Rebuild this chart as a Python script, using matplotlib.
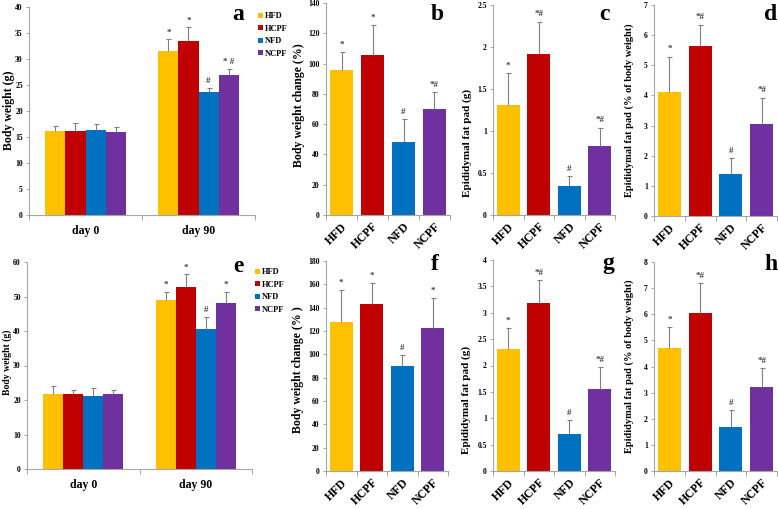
import matplotlib
matplotlib.use("Agg")
import matplotlib.pyplot as plt
from matplotlib.patches import Patch
import numpy as np

plt.rcParams['font.family'] = 'serif'
plt.rcParams['font.serif'] = ['Liberation Serif', 'DejaVu Serif']
plt.rcParams['font.weight'] = 'bold'

groups = ['HFD', 'HCPF', 'NFD', 'NCPF']
colors = ['#FFC000', '#C00000', '#0070C0', '#7030A0']
days = ['day 0', 'day 90']

# Panel a (body weight, g)
a_vals = [[16.2, 16.1, 16.4, 16.0], [31.6, 33.5, 23.7, 27.0]]
a_errs = [[1.0, 1.6, 1.1, 0.9], [2.2, 2.6, 0.8, 1.1]]
a_sig = [['', '', '', ''], ['*', '*', '#', '* #']]
# Panel b (body weight change, %)
b_vals = [95.5, 105.8, 48.0, 70.0]
b_errs = [12.0, 20.0, 15.5, 11.0]
b_sig = ['*', '*', '#', '*#']
# Panel c (epididymal fat pad, g)
c_vals = [1.31, 1.92, 0.34, 0.82]
c_errs = [0.38, 0.38, 0.12, 0.22]
c_sig = ['*', '*#', '#', '*#']
# Panel d (epididymal fat pad, % of body weight)
d_vals = [4.11, 5.65, 1.40, 3.05]
d_errs = [1.17, 0.70, 0.51, 0.87]
d_sig = ['*', '*#', '#', '*#']
# Panel e (body weight, g)
e_vals = [[21.7, 21.7, 21.3, 21.7], [49.1, 52.8, 40.7, 48.1]]
e_errs = [[2.3, 1.3, 2.3, 1.3], [2.3, 3.8, 3.5, 3.3]]
e_sig = [['', '', '', ''], ['*', '*', '#', '*']]
# Panel f
f_vals = [128.0, 143.5, 89.6, 122.4]
f_errs = [27.4, 17.9, 9.9, 26.2]
f_sig = ['*', '*', '#', '*']
# Panel g
g_vals = [2.31, 3.18, 0.70, 1.55]
g_errs = [0.41, 0.45, 0.27, 0.42]
g_sig = ['*', '*#', '#', '*#']
# Panel h
h_vals = [4.70, 6.05, 1.69, 3.21]
h_errs = [0.83, 1.15, 0.65, 0.74]
h_sig = ['*', '*#', '#', '*#']

W, H = 778, 509
fig = plt.figure(figsize=(W / 100, H / 100), dpi=100)

SPINE = '#A6A6A6'
ECOL = '#808080'


def make_ax(l, r, t, b):
    ax = fig.add_axes([l / W, 1 - b / H, (r - l) / W, (b - t) / H])
    for s in ['top', 'right']:
        ax.spines[s].set_visible(False)
    for s in ['left', 'bottom']:
        ax.spines[s].set_color(SPINE)
        ax.spines[s].set_linewidth(0.8)
    ax.tick_params(axis='y', labelsize=5.5, colors=SPINE, labelcolor='black',
                   length=2.5, width=0.7, pad=2)
    return ax


def errbars(ax, x, v, e):
    cont = ax.errorbar(x, v, yerr=[np.zeros(len(v)), e], fmt='none',
                       ecolor=ECOL, elinewidth=0.8, capsize=1.8, capthick=0.8,
                       zorder=3)
    cont[1][0].set_visible(False)


def sig_text(ax, x, tops, sig, off):
    for xi, t, s in zip(x, tops, sig):
        if s:
            ax.text(xi, t + off, s, ha='center', va='bottom', fontsize=6.5,
                    color='#404040', fontweight='bold')


def ylabel(ax, text, cx, cy, fs):
    ax.set_ylabel(text, fontsize=fs, fontweight='bold', va='center')
    ax.yaxis.set_label_coords(cx / W, 1 - cy / H, transform=fig.transFigure)


def grouped(ax, vals, errs, sig, ymax, step, off):
    n = len(groups)
    w = 0.71 / n
    for gi in range(len(days)):
        x = gi + (np.arange(n) - (n - 1) / 2) * w
        ax.bar(x, vals[gi], width=w, color=colors, zorder=2)
        errbars(ax, x, vals[gi], errs[gi])
        tops = np.array(vals[gi]) + np.array(errs[gi])
        sig_text(ax, x, tops, sig[gi], off)
    ax.set_xlim(-0.5, len(days) - 0.5)
    ax.set_ylim(0, ymax)
    ax.set_yticks(np.arange(0, ymax + step / 2, step))
    ax.set_xticks(range(len(days)))
    ax.set_xticklabels(days, fontsize=8.5, fontweight='bold')
    ax.tick_params(axis='x', length=0, pad=7)
    ax.set_xticks(np.arange(-0.5, len(days)), minor=True)
    ax.tick_params(axis='x', which='minor', length=3.5, color=SPINE, width=0.7)


def single(ax, vals, errs, sig, ymax, step, off, fmt=None):
    x = np.arange(len(groups))
    ax.bar(x, vals, width=0.75, color=colors, zorder=2)
    errbars(ax, x, vals, errs)
    tops = np.array(vals) + np.array(errs)
    sig_text(ax, x, tops, sig, off)
    ax.set_xlim(-0.5, len(groups) - 0.5)
    ax.set_ylim(0, ymax)
    ticks = np.arange(0, ymax + step / 2, step)
    ax.set_yticks(ticks)
    if fmt:
        ax.set_yticklabels([('%g' % t) for t in ticks])
    ax.set_xticks(x)
    ax.set_xticklabels(groups, fontsize=8.5, fontweight='bold', rotation=45,
                       ha='right', va='top', rotation_mode='anchor')
    ax.tick_params(axis='x', length=0, pad=4)
    ax.set_xticks(np.arange(-0.5, len(groups)), minor=True)
    ax.tick_params(axis='x', which='minor', length=3.5, color=SPINE, width=0.7)


# Top row
ax_a = make_ax(29, 255, 7, 215)
grouped(ax_a, a_vals, a_errs, a_sig, 40, 5, 0.5)
ylabel(ax_a, 'Body weight (g)', 9, 110, 8.5)

ax_b = make_ax(326, 450, 3, 215)
single(ax_b, b_vals, b_errs, b_sig, 140, 20, 2)
ylabel(ax_b, 'Body weight change (%)', 299, 105, 8.5)

ax_c = make_ax(493, 615, 5, 215)
single(ax_c, c_vals, c_errs, c_sig, 2.5, 0.5, 0.04, fmt=True)
ylabel(ax_c, 'Epididymal fat pad (g)', 467, 143, 8)

ax_d = make_ax(654, 777, 5, 216)
single(ax_d, d_vals, d_errs, d_sig, 7, 1, 0.12)
ylabel(ax_d, 'Epididymal fat pad (% of body weight)', 629, 110, 7.5)

# Bottom row
ax_e = make_ax(27, 252, 262, 469)
grouped(ax_e, e_vals, e_errs, e_sig, 60, 10, 0.7)
ylabel(ax_e, 'Body weight (g)', 7, 362, 7)

ax_f = make_ax(326, 448, 261, 471)
single(ax_f, f_vals, f_errs, f_sig, 180, 20, 2.5)
ylabel(ax_f, 'Body weight change (% )', 298, 370, 8.5)

ax_g = make_ax(493, 615, 260, 471)
single(ax_g, g_vals, g_errs, g_sig, 4, 0.5, 0.05, fmt=True)
ylabel(ax_g, 'Epididymal fat pad (g)', 466, 400, 8)

ax_h = make_ax(654, 777, 262, 471)
single(ax_h, h_vals, h_errs, h_sig, 8, 1, 0.12)
ylabel(ax_h, 'Epididymal fat pad (% of body weight)', 629, 366, 7.5)

# Panel letters
for letter, (px, py) in zip('abcdefgh', [(238, 14), (437, 14), (604, 14), (771, 14),
                                        (238, 267), (435, 265), (608, 263), (771, 265)]):
    fig.text(px / W, 1 - py / H, letter, fontsize=17, fontweight='bold',
             ha='center', va='center')

# Legends
handles = [Patch(facecolor=c, edgecolor='none') for c in colors]
for (lx, ly) in [(258, 12), (255, 268)]:
    fig.legend(handles, groups, loc='upper left', bbox_to_anchor=(lx / W, 1 - ly / H),
               frameon=False, handlelength=0.55, handleheight=0.55,
               handletextpad=0.25, labelspacing=0.55, borderpad=0, borderaxespad=0,
               prop={'size': 6, 'weight': 'bold'})

fig.savefig('out.png', dpi=100)
